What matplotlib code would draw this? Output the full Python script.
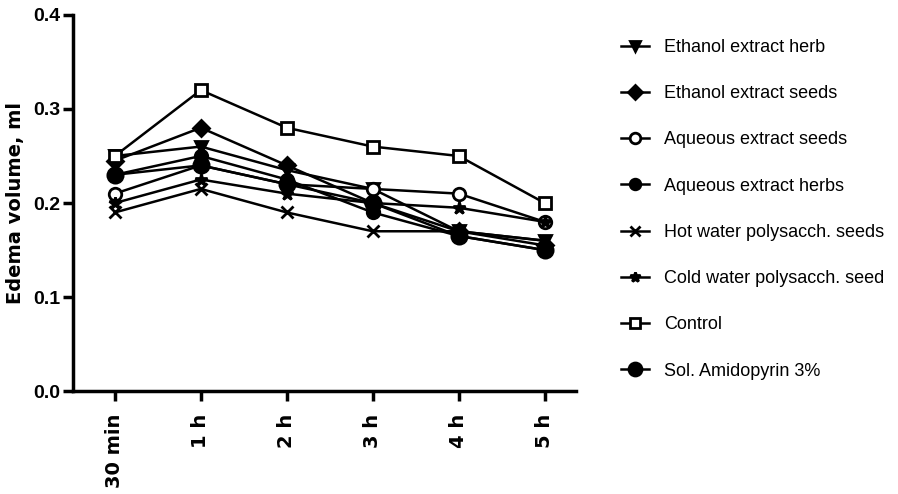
import matplotlib
matplotlib.use("Agg")
import matplotlib.pyplot as plt

times = ["30 min", "1 h", "2 h", "3 h", "4 h", "5 h"]

ethanol_herb = [0.25, 0.26, 0.235, 0.215, 0.17, 0.16]
ethanol_seeds = [0.245, 0.28, 0.24, 0.20, 0.17, 0.155]
aqueous_seeds = [0.21, 0.24, 0.22, 0.215, 0.21, 0.18]
aqueous_herbs = [0.23, 0.25, 0.225, 0.19, 0.165, 0.15]
hot_water_seeds = [0.19, 0.215, 0.19, 0.17, 0.17, 0.16]
cold_water_seed = [0.20, 0.225, 0.21, 0.20, 0.195, 0.18]
control = [0.25, 0.32, 0.28, 0.26, 0.25, 0.20]
amidopyrin = [0.23, 0.24, 0.22, 0.20, 0.165, 0.15]

series = [
    ("Ethanol extract herb", ethanol_herb, "v", "black", 9),
    ("Ethanol extract seeds", ethanol_seeds, "D", "black", 8),
    ("Aqueous extract seeds", aqueous_seeds, "o", "white", 9),
    ("Aqueous extract herbs", aqueous_herbs, "o", "black", 9),
    ("Hot water polysacch. seeds", hot_water_seeds, "x", "black", 8),
    ("Cold water polysacch. seed", cold_water_seed, "*", "black", 9),
    ("Control", control, "s", "white", 9),
    ("Sol. Amidopyrin 3%", amidopyrin, "o", "black", 11),
]

arial = ["Liberation Sans", "DejaVu Sans"]
wide = ["DejaVu Sans"]

fig = plt.figure(figsize=(8.98, 4.94), dpi=100)
ax = fig.add_axes([0.081, 0.208, 0.56, 0.762])

x = list(range(len(times)))
for name, vals, mk, face, ms in series:
    ax.plot(x, vals, color="black", lw=1.8, marker=mk, markersize=ms,
            markerfacecolor=face, markeredgecolor="black", markeredgewidth=2,
            label=name)

ax.set_xlim(-0.49, 5.36)
ax.set_ylim(0, 0.4)
ax.set_yticks([0.0, 0.1, 0.2, 0.3, 0.4])
ax.set_yticklabels(["0.0", "0.1", "0.2", "0.3", "0.4"], family=arial,
                   fontweight="bold", fontsize=14)
ax.set_xticks(x)
ax.set_xticklabels(times, rotation=90, family=wide, fontweight="bold",
                   fontsize=14)
ax.set_ylabel("Edema volume, ml", family=wide, fontweight="bold",
              fontsize=14, labelpad=6)

for s in ["top", "right"]:
    ax.spines[s].set_visible(False)
for s in ["left", "bottom"]:
    ax.spines[s].set_linewidth(2.5)
ax.tick_params(direction="out", length=7, width=2.5, pad=2)
ax.tick_params(axis="x", pad=9)

ax.legend(loc="upper left", bbox_to_anchor=(1.075, 0.955), frameon=False,
          prop={"family": arial, "size": 13}, handlelength=1.6,
          labelspacing=1.62, handletextpad=0.8, borderaxespad=0,
          markerscale=0.85)

fig.savefig("out.png", dpi=100)
